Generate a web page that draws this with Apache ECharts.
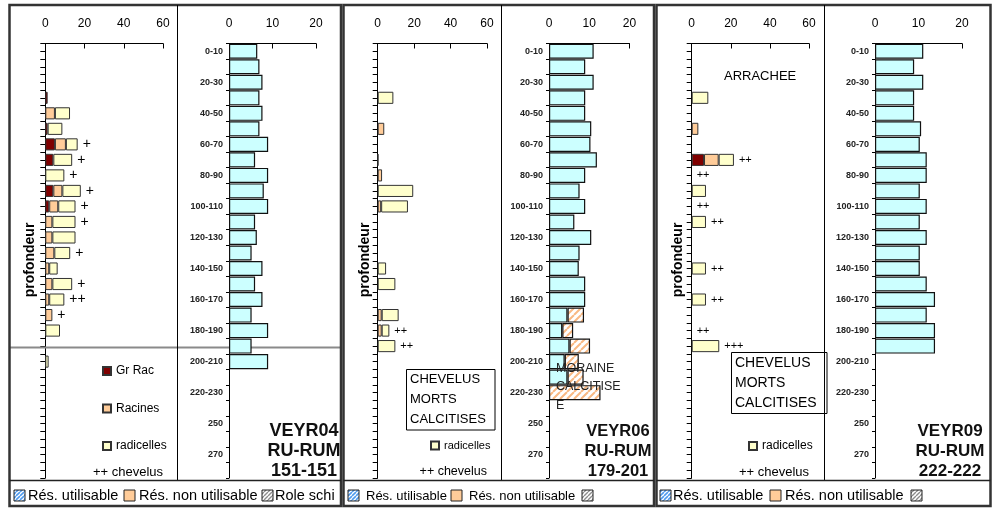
<!DOCTYPE html>
<html>
<head>
<meta charset="utf-8">
<script src="https://cdn.jsdelivr.net/npm/echarts/dist/echarts.min.js"></script>
<style>
html, body { margin: 0; padding: 0; background: #fff; }
#chart { width: 995px; height: 508px; }
</style>
</head>
<body>
<div id="chart"></div>
<script>
// Depth classes (cm), one per 10 cm slice
const depthCats = ['0-10','10-20','20-30','30-40','40-50','50-60','60-70','70-80','80-90','90-100',
  '100-110','110-120','120-130','130-140','140-150','150-160','160-170','170-180','180-190','190-200',
  '200-210','210-220','220-230','230-240','250','260','270','280'];

const rootTicks = [0, 20, 40, 60];
const ruTicks = [0, 10, 20];

// VEYR04 — root counts
const grRac04      = [null,null,null,1.2,null,1.2,4.9,4.1,null,4.1,2.0];
const racines04    = [null,null,null,null,4.9,null,5.6,null,null,4.6,4.6,3.6,3.6,4.6,2.0,3.6,2.0,3.6];
const radicelles04 = [null,null,null,null,7.7,7.5,6.0,9.6,9.7,9.4,8.8,11.8,11.8,8.1,4.3,10.1,7.7,null,7.5,null,1.7];
const chevelus04   = ['','','','','','','+','+','+','+','+','+','','+','','+','++','+'];
// VEYR04 — water reserve (mm per slice)
const ruUtil04     = [6.5,7.0,7.7,7.0,7.7,7.0,9.0,6.0,9.0,8.0,9.0,6.0,6.4,5.2,7.7,6.0,7.7,5.2,9.0,5.2,9.0];

// VEYR06 — root counts
const grRac06      = [null,null,null,null,null,null,null,0.3];
const racines06    = [null,null,null,null,null,3.6,null,null,2.4,null,1.9,null,null,null,null,null,null,2.2,2.2];
const radicelles06 = [null,null,null,8.6,null,null,null,null,null,19.5,14.7,null,null,null,4.6,9.7,null,9.3,4.2,9.7];
const chevelus06   = ['','','','','','','','','','','','','','','','','','','++','++'];
// VEYR06 — water reserve
const ruUtil06     = [11.1,9.0,11.1,9.0,9.0,10.5,10.3,11.9,9.0,7.6,9.0,6.3,10.5,7.6,7.4,9.0,9.0,4.6,3.3,5.1,3.9,4.6,null];
const ruNonUtil06  = [null,null,null,null,null,null,null,null,null,null,null,null,null,null,null,null,null,4.1,2.7,5.1,3.5,4.0,12.8];

// VEYR09 — root counts
const grRac09      = [null,null,null,null,null,null,null,6.3];
const racines09    = [null,null,null,null,null,3.4,null,7.5];
const radicelles09 = [null,null,null,8.5,null,null,null,7.8,null,7.3,null,7.3,null,null,7.3,null,7.3,null,null,14.1];
const chevelus09   = ['','','','','','','','++','++','','++','++','','','++','','++','','++','+++'];
// VEYR09 — water reserve
const ruUtil09     = [11.1,9.0,11.1,9.0,9.0,10.6,10.3,11.9,11.9,10.3,11.9,10.3,11.9,10.3,10.3,11.9,13.8,11.9,13.8,13.8];

const FONT = '"Liberation Sans", Arial, sans-serif';
const C_GRRAC = '#800000', C_RAC = '#FFCC99', C_RADI = '#FFFFCC', C_RU = '#CCFFFF';

// diagonal hatch tiles
function hatch(bg, fg, lw, size) {
  const c = document.createElement('canvas');
  c.width = c.height = size;
  const g = c.getContext('2d');
  g.fillStyle = bg; g.fillRect(0, 0, size, size);
  g.strokeStyle = fg; g.lineWidth = lw;
  g.beginPath();
  for (const k of [-size, 0, size]) { g.moveTo(k, size); g.lineTo(k + size, 0); }
  g.stroke();
  return { image: c, repeat: 'repeat' };
}
const orangeHatch = hatch('#ffffff', '#F9B983', 2, 7);
const blueHatch = hatch('#ffffff', '#4F9BEF', 1.6, 4);
const greyHatch = hatch('#ffffff', '#8c8c8c', 1.4, 4);

// panel geometry
const TOP = 43.5, H = 434.5;
const grids = [
  { left: 45.3, top: TOP, width: 117.7, height: H },
  { left: 229,  top: TOP, width: 87,    height: H },
  { left: 377.7,top: TOP, width: 109.3, height: H },
  { left: 549,  top: TOP, width: 80.5,  height: H },
  { left: 691.7,top: TOP, width: 117.3, height: H },
  { left: 875,  top: TOP, width: 87,    height: H }
];

const xAxes = grids.map((g, i) => {
  const root = i % 2 === 0;
  const ticks = root ? rootTicks : ruTicks;
  return {
    type: 'value', gridIndex: i, position: 'top',
    min: ticks[0], max: ticks[ticks.length - 1], interval: ticks[1] - ticks[0],
    axisLine: { show: true, lineStyle: { color: '#000', width: 1 } },
    axisTick: { show: true, inside: true, length: 5, lineStyle: { color: '#000' } },
    splitLine: { show: false },
    axisLabel: { margin: 14, fontSize: 12, color: '#000', fontFamily: FONT }
  };
});

const yAxes = [];
grids.forEach((g, i) => {
  const root = i % 2 === 0;
  if (root) {
    yAxes.push({
      type: 'category', gridIndex: i, data: depthCats, inverse: true, position: 'left',
      axisLine: { show: true, lineStyle: { color: '#000' } },
      axisTick: { show: false }, axisLabel: { show: false }
    });
    // half-slice tick marks along the depth axis
    yAxes.push({
      type: 'value', gridIndex: i, inverse: true, position: 'left',
      min: 0, max: depthCats.length, interval: 0.5,
      axisLine: { show: false }, splitLine: { show: false }, axisLabel: { show: false },
      axisTick: { show: true, length: 5, lineStyle: { color: '#000' } }
    });
  } else {
    yAxes.push({
      type: 'category', gridIndex: i, data: depthCats, inverse: true, position: 'left',
      axisLine: { show: true, lineStyle: { color: '#000' } },
      axisTick: { show: true, interval: 0, length: 3, lineStyle: { color: '#000' } },
      axisLabel: { interval: 1, margin: 6, fontSize: 9, fontWeight: 'bold', color: '#222', fontFamily: FONT }
    });
  }
});
// yAxis index for each grid
const yIdx = [0, 2, 3, 5, 6, 8];

function rootSeries(grid, stack, gr, rac, radi, chev, chevSize) {
  const base = {
    type: 'bar', xAxisIndex: grid, yAxisIndex: yIdx[grid], stack: stack,
    barCategoryGap: '22%', animation: false,
    emphasis: { disabled: true }
  };
  const border = { borderColor: '#333', borderWidth: 1 };
  return [
    Object.assign({}, base, { name: 'Gr Rac', data: gr, itemStyle: Object.assign({ color: C_GRRAC }, border) }),
    Object.assign({}, base, { name: 'Racines', data: rac, itemStyle: Object.assign({ color: C_RAC }, border) }),
    Object.assign({}, base, { name: 'radicelles', data: radi, itemStyle: Object.assign({ color: C_RADI }, border) }),
    Object.assign({}, base, {
      name: 'chevelus', data: chev.map(s => s ? 0 : null),
      itemStyle: { color: 'transparent', borderWidth: 0 },
      label: {
        show: true, position: 'right', distance: 5, color: '#000',
        fontSize: chevSize, fontFamily: FONT,
        formatter: p => chev[p.dataIndex]
      }
    })
  ];
}

function ruSeries(grid, stack, util, nonUtil) {
  const base = {
    type: 'bar', xAxisIndex: grid, yAxisIndex: yIdx[grid], stack: stack,
    barCategoryGap: '3%', animation: false, emphasis: { disabled: true }
  };
  const out = [Object.assign({}, base, {
    name: 'Rés. utilisable', data: util,
    itemStyle: { color: C_RU, borderColor: '#111', borderWidth: 1.2 }
  })];
  if (nonUtil) out.push(Object.assign({}, base, {
    name: 'Rés. non utilisable', data: nonUtil,
    itemStyle: { color: orangeHatch, borderColor: '#111', borderWidth: 1.2 }
  }));
  return out;
}

const series = [].concat(
  rootSeries(0, 'r04', grRac04, racines04, radicelles04, chevelus04, 14),
  ruSeries(1, 'u04', ruUtil04),
  rootSeries(2, 'r06', grRac06, racines06, radicelles06, chevelus06, 11),
  ruSeries(3, 'u06', ruUtil06, ruNonUtil06),
  rootSeries(4, 'r09', grRac09, racines09, radicelles09, chevelus09, 11),
  ruSeries(5, 'u09', ruUtil09)
);

const legendBase = {
  orient: 'vertical', padding: 0, icon: 'rect', itemWidth: 8, itemHeight: 8,
  selectedMode: false, textStyle: { fontFamily: FONT, color: '#000' }
};
const legends = [
  Object.assign({}, legendBase, { data: ['Gr Rac', 'Racines', 'radicelles'], left: 102, top: 365, itemGap: 25.5, textStyle: { fontFamily: FONT, color: '#000', fontSize: 12 } }),
  Object.assign({}, legendBase, { data: ['radicelles'], left: 430, top: 440, textStyle: { fontFamily: FONT, color: '#000', fontSize: 11 } }),
  Object.assign({}, legendBase, { data: ['radicelles'], left: 748, top: 440, textStyle: { fontFamily: FONT, color: '#000', fontSize: 12 } })
];

// ---- frames, annotations and bottom key ----
const g = [];
function rect(x, y, w, h, style, z) { g.push({ type: 'rect', shape: { x, y, width: w, height: h }, style, z: z || 10, silent: true }); }
function line(x1, y1, x2, y2, stroke, lw, z) { g.push({ type: 'line', shape: { x1, y1, x2, y2 }, style: { stroke, lineWidth: lw }, z: z || 10, silent: true }); }
function text(t, x, y, size, opts) {
  opts = opts || {};
  g.push({
    type: 'text', x, y, rotation: opts.rot || 0, z: opts.z || 20, silent: true,
    style: {
      text: t, x: 0, y: 0, fill: opts.color || '#000',
      font: (opts.weight || 'normal') + ' ' + size + 'px ' + FONT,
      textAlign: opts.align || 'left', textVerticalAlign: 'middle',
      align: opts.align || 'left', verticalAlign: 'middle'
    }
  });
}

// panel outlines
const frames = [[9.5, 5, 331.5, 501], [343.5, 5, 310.5, 501], [656.5, 5, 334, 501]];
frames.forEach(f => rect(f[0], f[1], f[2], f[3], { fill: 'none', stroke: '#333', lineWidth: 2.5 }, 30));
// inner separators
[177.5, 501.5, 824.5].forEach(x => line(x, 5, x, 480, '#000', 1, 30));
frames.forEach(f => line(f[0], 480.5, f[0] + f[2], 480.5, '#222', 1.5, 30));
// grey limit line in VEYR04
line(10, 347.5, 340, 347.5, '#8a8a8a', 2, 1);

// depth axis titles
[30, 365, 678].forEach(x => text('profondeur', x, 260, 14, { rot: Math.PI / 2, weight: 'bold', align: 'center' }));

// "++ chevelus" key lines
text('++ chevelus', 163, 472, 13, { align: 'right' });
text('++ chevelus', 487, 472, 12.5, { align: 'right' });
text('++ chevelus', 809, 472, 13, { align: 'right' });

// boxed notes
rect(406.5, 369.5, 88.5, 60.5, { fill: '#fff', stroke: '#000', lineWidth: 1 }, 15);
['CHEVELUS', 'MORTS', 'CALCITISES'].forEach((t, k) => text(t, 410, 379 + 20 * k, 13));
rect(731.5, 352.5, 95.5, 61, { fill: '#fff', stroke: '#000', lineWidth: 1 }, 15);
['CHEVELUS', 'MORTS', 'CALCITISES'].forEach((t, k) => text(t, 735, 363 + 20 * k, 14));

text('ARRACHEE', 724, 76, 13);
['MORAINE', 'CALCITISE', 'E'].forEach((t, k) => text(t, 556, 368.5 + 18.5 * k, 12.5, { color: '#222' }));

// profile identifiers
[['VEYR04', 'RU-RUM', '151-151', 304, 18], ['VEYR06', 'RU-RUM', '179-201', 618, 16.5], ['VEYR09', 'RU-RUM', '222-222', 950, 17]]
  .forEach(p => [p[0], p[1], p[2]].forEach((t, k) => text(t, p[3], 431 + 20 * k, p[4], { weight: 'bold', align: 'center', color: '#111' })));

// bottom key strip
function keyIcon(x, fill) { rect(x, 490, 11, 11, { fill, stroke: '#222', lineWidth: 1 }, 25); }
function keyRow(x1, t1, x2, t2, x3, t3, size, x4) {
  keyIcon(x1, blueHatch); text('Rés. utilisable', t1, 496, size);
  keyIcon(x2, C_RAC); text('Rés. non utilisable', t2, 496, size);
  keyIcon(x3, greyHatch); if (x4) text('Role schi', x4, 496, size);
}
keyRow(14, 28, 124, 139, 262, null, 14.5, 275);
keyRow(348, 366, 451, 469, 582, null, 13);
keyRow(660, 673, 770, 785, 911, null, 14.5);

const chart = echarts.init(document.getElementById('chart'), null, { renderer: 'canvas' });
chart.setOption({
  backgroundColor: '#fff',
  animation: false,
  grid: grids,
  xAxis: xAxes,
  yAxis: yAxes,
  legend: legends,
  series: series,
  graphic: { elements: g }
});
</script>
</body>
</html>
